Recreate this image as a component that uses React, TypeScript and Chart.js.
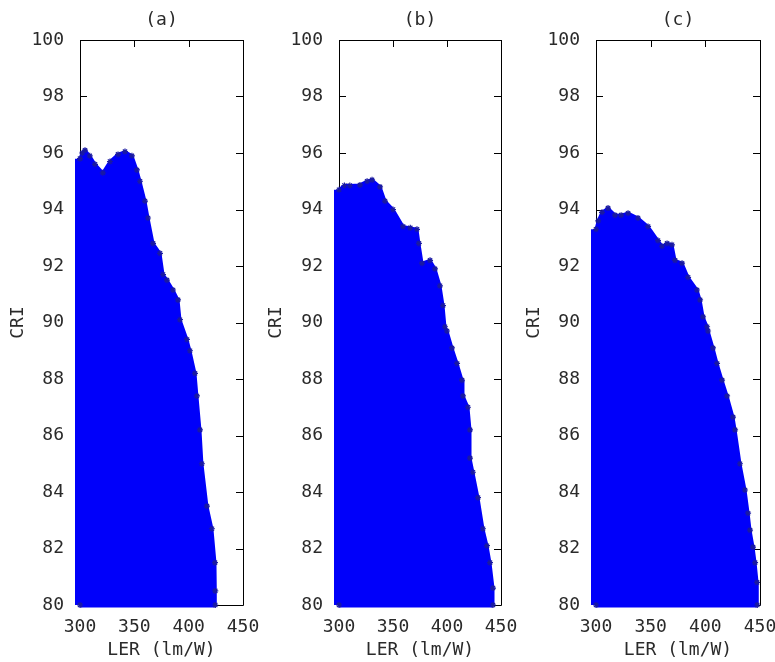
import React, { useEffect, useRef } from "react";
import { Chart, registerables } from "chart.js";
Chart.register(...registerables);

const FONT = "'DejaVu Sans Mono', monospace";
const BLUE = "#0000fa";
const EDGE = "#1a1aa0";
const TEXT = "#2a2a2a";

const xTickValues = [300, 350, 400, 450];
const yTickValues = [80, 82, 84, 86, 88, 90, 92, 94, 96, 98, 100];
const xTitle = "LER (lm/W)";
const yTitle = "CRI";
const panelTitles = ["(a)", "(b)", "(c)"];

// Boundary of the filled point cloud (LER, CRI), panel (a)
const lerA = [300, 300, 302, 304.6, 309, 313.8, 321, 327.6, 335, 341.4, 347.8, 352.4, 355.2, 359.8, 362.6, 367.2, 373.6, 376.4, 380, 385.6, 390.2, 392, 398.4, 401.2, 405.8, 407.6, 410.4, 412.2, 416.8, 421.4, 424.2, 424.5, 424.5];
const criA = [80, 95.8, 96.0, 96.1, 95.9, 95.6, 95.3, 95.7, 95.95, 96.05, 95.9, 95.4, 95.0, 94.3, 93.7, 92.8, 92.45, 91.7, 91.5, 91.15, 90.8, 90.1, 89.4, 89.0, 88.2, 87.4, 86.2, 85.0, 83.5, 82.7, 81.5, 80.5, 80];

// panel (b)
const lerB = [300, 300, 305, 310, 319.4, 326, 330.6, 338, 342.6, 350, 359.3, 366, 372.2, 374, 376.9, 384.3, 388.9, 393.5, 396.3, 398.1, 400, 404.6, 409.3, 413.9, 414.8, 419.4, 421.3, 421.3, 424, 428.7, 433.3, 437, 439.8, 442.6, 442.6];
const criB = [80, 94.7, 94.85, 94.85, 94.87, 95.0, 95.05, 94.8, 94.3, 94.0, 93.4, 93.35, 93.3, 92.8, 92.1, 92.2, 91.9, 91.3, 90.6, 89.85, 89.7, 89.1, 88.55, 87.96, 87.4, 87.0, 86.2, 85.2, 84.7, 83.8, 82.7, 82.1, 81.5, 80.6, 80];

// panel (c)
const lerC = [300, 300, 302, 305.5, 311, 317.4, 323, 329.3, 338.4, 347.6, 356.7, 360.4, 365, 369.5, 372.3, 378.7, 384.2, 392.4, 395.2, 397.9, 401.6, 402.5, 407, 410.7, 415.3, 419.9, 425.3, 427.2, 431.7, 436.3, 439.1, 440.9, 443.6, 445.5, 447.3, 447.5];
const criC = [80, 93.3, 93.6, 93.9, 94.05, 93.8, 93.8, 93.87, 93.7, 93.4, 92.9, 92.7, 92.8, 92.75, 92.2, 92.1, 91.6, 91.15, 90.8, 90.2, 89.85, 89.7, 89.1, 88.55, 87.96, 87.4, 86.65, 86.2, 85.0, 84.07, 83.25, 82.65, 82.05, 81.5, 80.8, 80];

type PanelProps = {
  title: string;
  ler: number[];
  cri: number[];
  left: number;
  width: number;
  axisWidth: number;
};

function Panel({ title, ler, cri, left, width, axisWidth }: PanelProps) {
  const ref = useRef<HTMLCanvasElement>(null);
  useEffect(() => {
    const pts = ler.map((x, i) => ({ x, y: cri[i] }));
    const last = pts.length - 1;
    const framePlugin = {
      id: "frame",
      beforeDatasetsDraw(chart: any) {
        const { ctx, chartArea } = chart;
        const { left: l, right: r, top: t, bottom: b } = chartArea;
        const xs = chart.scales.x;
        const ys = chart.scales.y;
        ctx.save();
        ctx.strokeStyle = "#000";
        ctx.lineWidth = 1;
        ctx.beginPath();
        ctx.rect(Math.round(l) + 0.5, Math.round(t) + 0.5, Math.round(r - l), Math.round(b - t));
        ctx.stroke();
        const tl = 7;
        ctx.beginPath();
        yTickValues.forEach((v) => {
          const y = Math.round(ys.getPixelForValue(v)) + 0.5;
          ctx.moveTo(l, y);
          ctx.lineTo(l + tl, y);
          ctx.moveTo(r, y);
          ctx.lineTo(r - tl, y);
        });
        xTickValues.forEach((v) => {
          const x = Math.round(xs.getPixelForValue(v)) + 0.5;
          ctx.moveTo(x, t);
          ctx.lineTo(x, t + tl);
          ctx.moveTo(x, b);
          ctx.lineTo(x, b - tl);
        });
        ctx.stroke();
        ctx.restore();
      },
      afterDraw(chart: any) {
        const { ctx, chartArea } = chart;
        ctx.save();
        ctx.fillStyle = TEXT;
        ctx.font = `18px ${FONT}`;
        ctx.textAlign = "center";
        ctx.textBaseline = "middle";
        ctx.fillText(title, (chartArea.left + chartArea.right) / 2, 20);
        ctx.restore();
      },
    };
    const tickFont = { family: FONT, size: 18 };
    const chart = new Chart(ref.current as HTMLCanvasElement, {
      type: "scatter",
      data: {
        datasets: [
          {
            data: pts,
            showLine: true,
            fill: "start",
            backgroundColor: BLUE,
            borderColor: BLUE,
            borderWidth: 3,
            pointStyle: "star",
            pointRadius: 3,
            pointBorderColor: EDGE,
            pointBackgroundColor: EDGE,
            pointBorderWidth: 1.2,
            clip: false,
            segment: {
              borderWidth: (c: any) => (c.p0DataIndex === 0 ? 10 : 3),
            },
          } as any,
          {
            data: [pts[0], pts[last]],
            showLine: true,
            fill: false,
            borderColor: BLUE,
            borderWidth: 5,
            pointRadius: 0,
            clip: false,
          } as any,
        ],
      },
      options: {
        responsive: false,
        animation: false,
        events: [],
        layout: { padding: { left: 0, right: 22, top: 40, bottom: 0 } },
        plugins: {
          legend: { display: false },
          tooltip: { enabled: false },
          title: { display: false },
        },
        scales: {
          x: {
            type: "linear",
            min: 300,
            max: 450,
            grid: { display: false },
            border: { display: false },
            afterBuildTicks: (s: any) => {
              s.ticks = xTickValues.map((v) => ({ value: v }));
            },
            afterFit: (s: any) => {
              s.height = 57;
            },
            ticks: { font: tickFont, color: TEXT, padding: 4, maxRotation: 0, autoSkip: false },
            title: { display: true, text: xTitle, font: tickFont, color: TEXT, padding: { top: 0, bottom: 1 } },
          },
          y: {
            type: "linear",
            min: 80,
            max: 100,
            grid: { display: false },
            border: { display: false },
            afterBuildTicks: (s: any) => {
              s.ticks = yTickValues.map((v) => ({ value: v }));
            },
            afterFit: (s: any) => {
              s.width = axisWidth;
            },
            ticks: { font: tickFont, color: TEXT, padding: 8, autoSkip: false },
            title: { display: true, text: yTitle, font: tickFont, color: TEXT, padding: { top: 8, bottom: 0 } },
          },
        },
      } as any,
      plugins: [framePlugin],
    });
    return () => chart.destroy();
  }, []);
  return (
    <canvas
      ref={ref}
      width={width}
      height={662}
      style={{ position: "absolute", left, top: 0, width, height: 662 }}
    />
  );
}

export default function App() {
  return (
    <div
      style={{
        position: "absolute",
        left: 0,
        top: 0,
        width: 775,
        height: 662,
        background: "#fff",
        overflow: "hidden",
      }}
    >
      <Panel title={panelTitles[0]} ler={lerA} cri={criA} left={0} width={265} axisWidth={80} />
      <Panel title={panelTitles[1]} ler={lerB} cri={criB} left={258} width={265} axisWidth={81} />
      <Panel title={panelTitles[2]} ler={lerC} cri={criC} left={516} width={266} axisWidth={80} />
    </div>
  );
}
